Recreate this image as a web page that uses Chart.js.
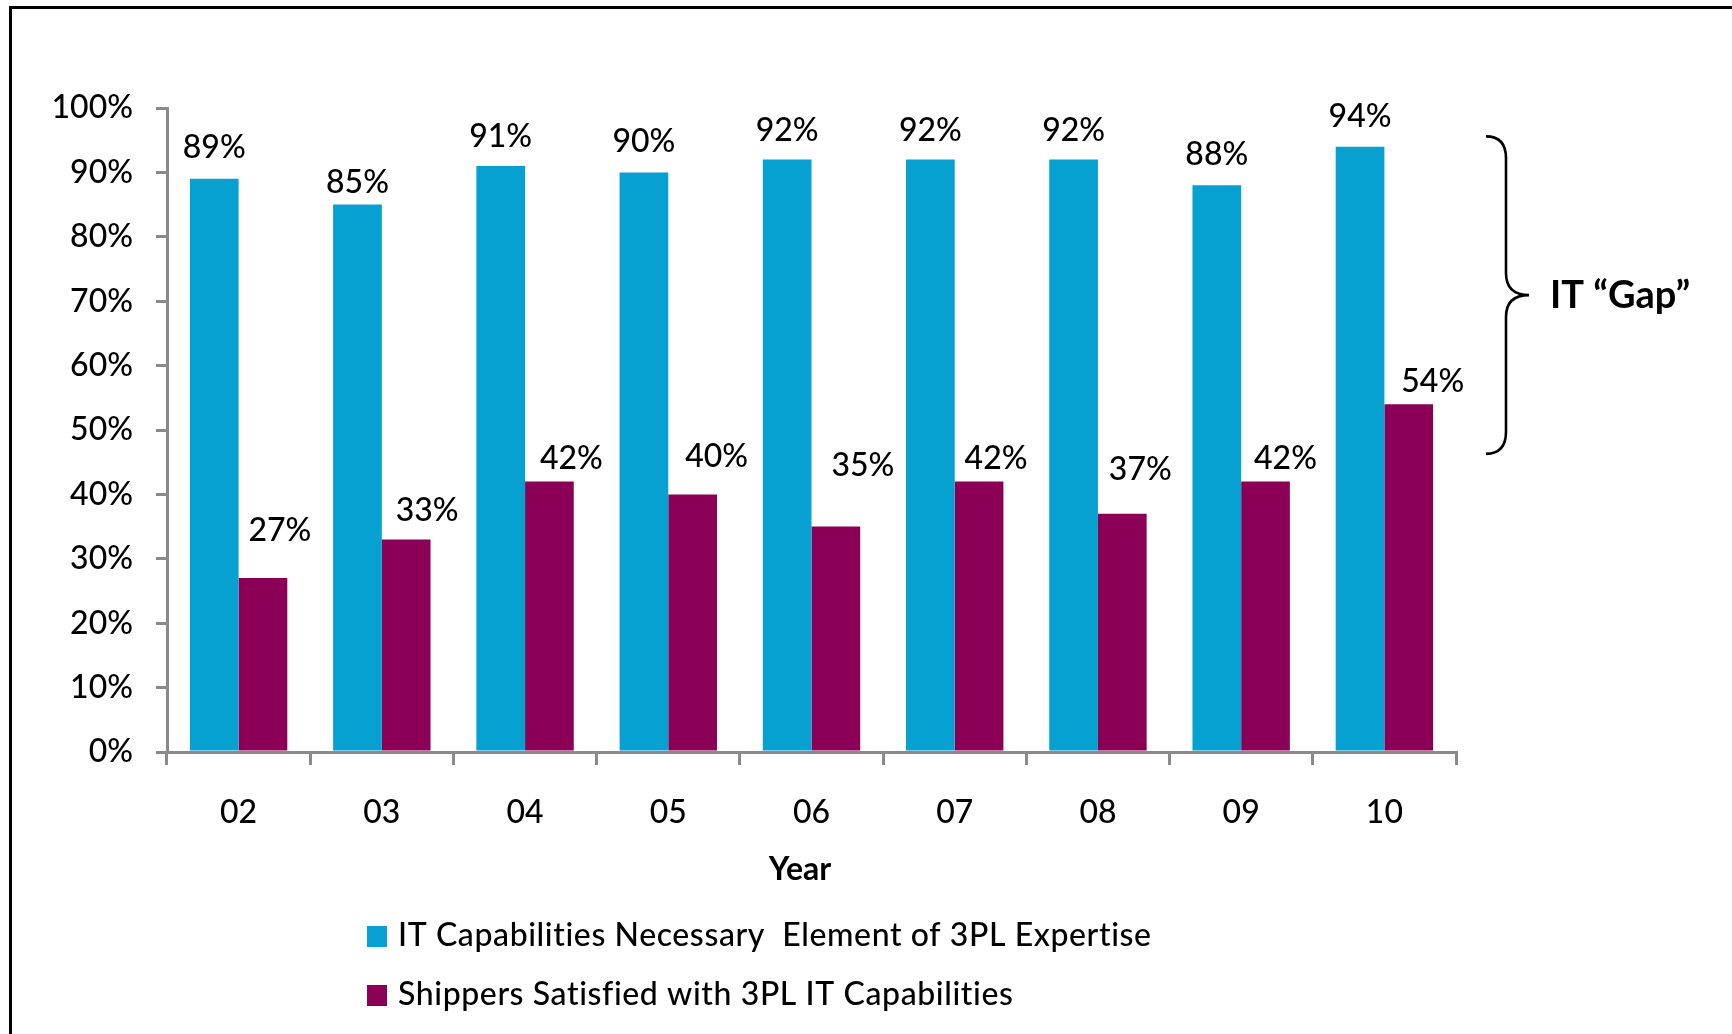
<!DOCTYPE html>
<html>
<head>
<meta charset="utf-8">
<title>IT Gap</title>
<script src="https://cdn.jsdelivr.net/npm/chart.js@4.4.1/dist/chart.umd.min.js"></script>
<style>
  html, body { margin: 0; padding: 0; background: #fff; }
  #wrap { position: relative; width: 1732px; height: 1034px; }
</style>
</head>
<body>
<div id="wrap"><canvas id="gapChart"></canvas></div>
<script>
// survey years and percentages
const years = ['02', '03', '04', '05', '06', '07', '08', '09', '10'];
const itNecessary = [89, 85, 91, 90, 92, 92, 92, 88, 94];
const shippersSatisfied = [27, 33, 42, 40, 35, 42, 37, 42, 54];
const seriesNames = [
  'IT Capabilities Necessary  Element of 3PL Expertise',
  'Shippers Satisfied with 3PL IT Capabilities',
];
const axisTitle = 'Year';

// span of the "gap" brace, in axis units
const gapFrom = 95.6;
const gapTo = 46.3;
const gapText = 'IT \u201cGap\u201d';

const BLUE = '#06a0d1';
const PLUM = '#8b0056';
const AXIS = '#8a8a8a';
const FONT = 'Lato, "Open Sans", sans-serif';

// hand placed value labels: [dx, gap above bar top to baseline]
const itLabelNudge = [[0, 21], [0, 12], [0, 19], [0, 20], [0, 19], [0, 19], [0, 19], [0, 20], [0, 20]];
const satLabelNudge = [[17, 37], [21, 18], [22, 13], [24, 27], [27, 51], [17, 13], [18, 34], [20, 13], [24, 12]];

Chart.defaults.font.family = FONT;
Chart.defaults.font.weight = 500;
Chart.defaults.color = '#000';

const valueLabels = {
  id: 'valueLabels',
  afterDatasetsDraw(chart) {
    const { ctx } = chart;
    const nudges = [itLabelNudge, satLabelNudge];
    ctx.save();
    ctx.font = `500 32px ${FONT}`;
    ctx.fillStyle = '#000';
    ctx.textAlign = 'center';
    ctx.textBaseline = 'alphabetic';
    chart.data.datasets.forEach((ds, i) => {
      chart.getDatasetMeta(i).data.forEach((bar, j) => {
        const [dx, gap] = nudges[i][j];
        ctx.fillText(ds.data[j] + '%', bar.x + dx, bar.y - gap);
      });
    });
    ctx.restore();
  },
};

const gapBrace = {
  id: 'gapBrace',
  afterDraw(chart) {
    const { ctx, chartArea } = chart;
    const y = chart.scales.y;
    const top = y.getPixelForValue(gapFrom);
    const bottom = y.getPixelForValue(gapTo);
    const mid = (top + bottom) / 2;
    const x0 = chartArea.right + 30;
    const x1 = x0 + 20;
    const tip = x0 + 43;
    const r = 22;

    ctx.save();
    ctx.strokeStyle = '#000';
    ctx.lineWidth = 2.6;
    ctx.beginPath();
    ctx.moveTo(x0, top);
    ctx.quadraticCurveTo(x1, top, x1, top + r);
    ctx.lineTo(x1, mid - r);
    ctx.quadraticCurveTo(x1, mid, tip, mid);
    ctx.quadraticCurveTo(x1, mid, x1, mid + r);
    ctx.lineTo(x1, bottom - r);
    ctx.quadraticCurveTo(x1, bottom, x0, bottom);
    ctx.stroke();

    ctx.font = `bold 38px ${FONT}`;
    ctx.fillStyle = '#000';
    ctx.textAlign = 'left';
    ctx.textBaseline = 'alphabetic';
    ctx.fillText(gapText, tip + 21, mid + 13);
    ctx.restore();
  },
};

// frame, axis title and the stacked legend under it
const sideLegend = {
  id: 'sideLegend',
  beforeDraw(chart) {
    const { ctx, width, height } = chart;
    ctx.save();
    ctx.fillStyle = '#fff';
    ctx.fillRect(0, 0, width, height);
    ctx.strokeStyle = '#000';
    ctx.lineWidth = 3;
    ctx.beginPath();
    ctx.moveTo(10.5, height);
    ctx.lineTo(10.5, 7.5);
    ctx.lineTo(width, 7.5);
    ctx.stroke();
    ctx.restore();
  },
  afterDraw(chart) {
    const { ctx } = chart;
    const rows = [936, 995];
    ctx.save();
    ctx.fillStyle = '#000';
    ctx.font = `bold 32px ${FONT}`;
    ctx.textAlign = 'center';
    ctx.textBaseline = 'middle';
    ctx.fillText(axisTitle, 800, 870);

    ctx.font = `500 32px ${FONT}`;
    ctx.letterSpacing = '0.6px';
    ctx.textAlign = 'left';
    chart.data.datasets.forEach((ds, i) => {
      ctx.fillStyle = ds.backgroundColor;
      ctx.fillRect(367, rows[i] - 10, 20, 21);
      ctx.fillStyle = '#000';
      ctx.fillText(ds.label, 398, rows[i]);
    });
    ctx.restore();
  },
};

new Chart(document.getElementById('gapChart'), {
  type: 'bar',
  data: {
    labels: years,
    datasets: [
      { label: seriesNames[0], data: itNecessary, backgroundColor: BLUE },
      { label: seriesNames[1], data: shippersSatisfied, backgroundColor: PLUM },
    ],
  },
  options: {
    responsive: true,
    maintainAspectRatio: false,
    animation: false,
    datasets: {
      bar: { categoryPercentage: 0.68, barPercentage: 1.0, borderWidth: 0 },
    },
    layout: { padding: { top: 108, right: 276, bottom: 0, left: 0 } },
    plugins: {
      legend: { display: false },
      tooltip: { enabled: false },
    },
    scales: {
      x: {
        afterFit(scale) { scale.height = 282; },
        grid: {
          drawOnChartArea: false,
          color: AXIS,
          lineWidth: 3,
          tickLength: 13,
        },
        border: { color: AXIS, width: 3 },
        ticks: { font: { size: 32 }, color: '#000', padding: 28 },
      },
      y: {
        min: 0,
        max: 100,
        afterFit(scale) { scale.width = 167; },
        grid: {
          drawOnChartArea: false,
          color: AXIS,
          lineWidth: 3,
          tickLength: 11,
        },
        border: { color: AXIS, width: 3 },
        ticks: {
          stepSize: 10,
          font: { size: 32 },
          color: '#000',
          padding: 23,
          callback: v => v + '%',
        },
      },
    },
  },
  plugins: [sideLegend, valueLabels, gapBrace],
});
</script>
</body>
</html>
